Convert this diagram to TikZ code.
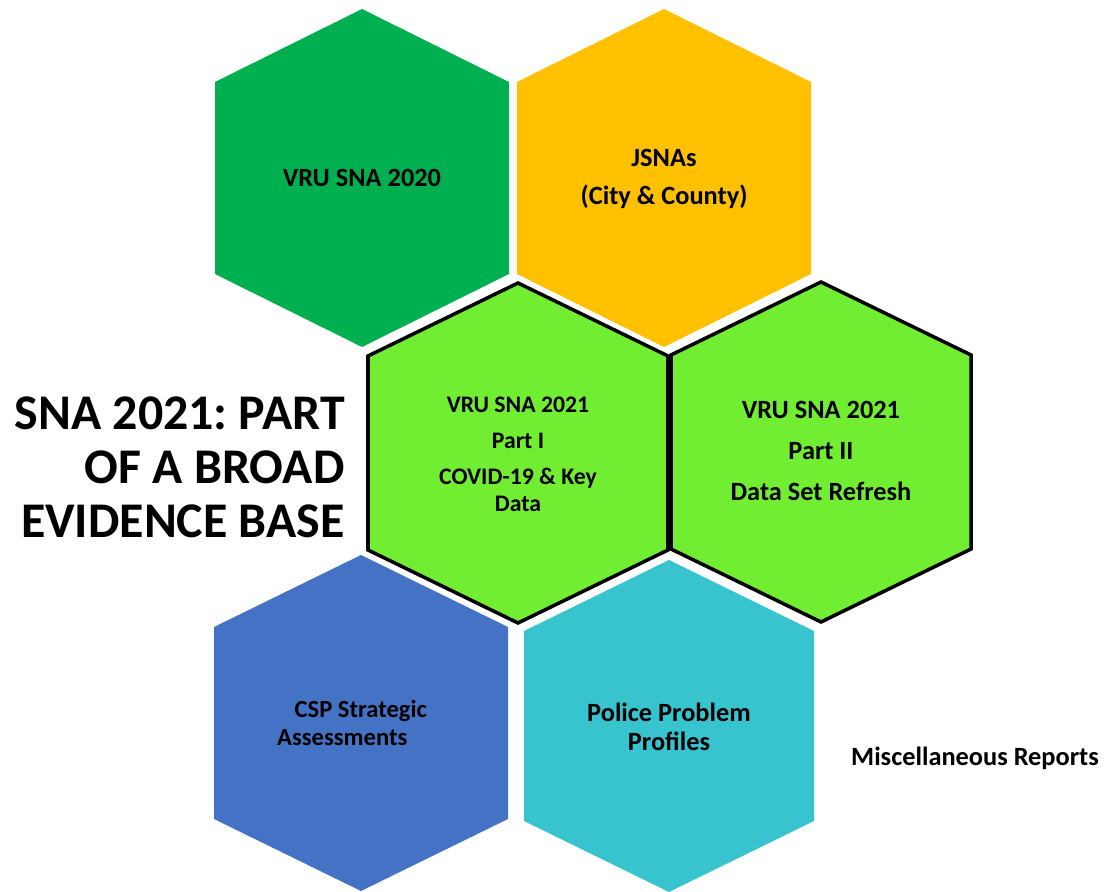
\documentclass[tikz,border=0pt]{standalone}
\usepackage{fontspec}
\setmainfont{Carlito}
\frenchspacing
\definecolor{snagreen}{HTML}{00B050}
\definecolor{snaorange}{HTML}{FFC000}
\definecolor{snalime}{HTML}{72EE32}
\definecolor{snablue}{HTML}{4472C4}
\definecolor{snateal}{HTML}{38C4CF}
% hexagon: [style]{cx}{cy}{half width}{tip}{half edge}
\newcommand{\hexcell}[6][]{%
  \filldraw[#1] (#2,#3) ++(0,-#5) -- ++(#4,{#5-#6}) -- ++(0,{2*#6})
    -- ++(-#4,{#5-#6}) -- ++(-#4,{#6-#5}) -- ++(0,{-2*#6}) -- cycle;}
\tikzset{
  cell/.style={fill=#1, draw=none},
  keycell/.style={fill=snalime, draw=black, line width=2pt, line join=miter},
  txt/.style={align=center, inner sep=0pt, text=black}
}

\begin{document}
\begin{tikzpicture}[x=0.2mm, y=-0.2mm]
  \useasboundingbox (0,0) rectangle (1108,892);
  \hexcell[cell=snagreen]{362}{178}{147}{169}{96}
  \hexcell[cell=snaorange]{664}{178}{147}{169}{96}
  \hexcell[cell=snablue]{361}{723}{147}{168}{96}
  \hexcell[cell=snateal]{669}{726}{145}{166}{95}
  \hexcell[keycell]{518}{453}{150}{170}{97}
  \hexcell[keycell]{821}{452}{150}{170}{97}

  \node[txt, font=\fontsize{15}{18}\selectfont\bfseries] (vru2020) at (362,178) {VRU SNA 2020};
  \node[txt, font=\fontsize{15}{21.6}\selectfont\bfseries] (jsna) at (664,179) {JSNAs\\(City \& County)};
  \node[txt, font=\fontsize{13.5}{15}\selectfont\bfseries] (part1) at (518,454)
    {VRU SNA 2021\\[5.5pt]Part I\\[6pt]COVID-19 \& Key\\Data};
  \node[txt, font=\fontsize{15}{23.3}\selectfont\bfseries] (part2) at (821,451) {VRU SNA 2021\\Part II\\Data Set Refresh};
  \node[txt, align=left, font=\fontsize{14}{16}\selectfont\bfseries] (csp) at (352,723)
    {\hspace*{10pt}CSP Strategic\\Assessments};
  \node[txt, font=\fontsize{15}{16.5}\selectfont\bfseries] (police) at (669,727) {Police Problem\\Profiles};
  \node[txt, font=\fontsize{15}{18}\selectfont\bfseries] (misc) at (975,758) {Miscellaneous Reports};
  \node[txt, align=right, anchor=east, font=\fontsize{28.4}{30.7}\selectfont\bfseries] (title) at (345,467)
    {SNA 2021: PART\\OF A BROAD\\EVIDENCE BASE};
\end{tikzpicture}
\end{document}
